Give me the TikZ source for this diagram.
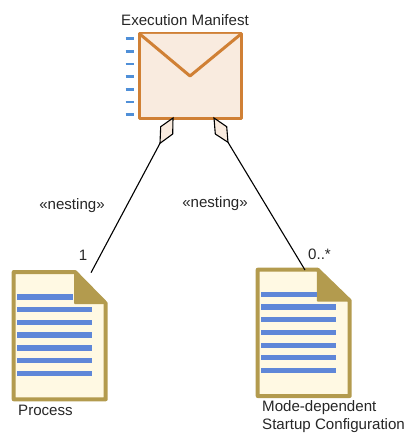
\documentclass[tikz,border=0pt]{standalone}
\usepackage{fontspec}
\setmainfont{Liberation Sans}
\definecolor{envfill}{HTML}{F9EBDF}
\definecolor{envline}{HTML}{D08035}
\definecolor{docfill}{HTML}{FFF9E3}
\definecolor{docline}{HTML}{B39B4E}
\definecolor{docbar}{HTML}{5F87D8}
\definecolor{tickblue}{HTML}{4F8FD8}
\tikzset{
  label/.style={inner sep=0pt, font=\fontsize{15.1}{17}\selectfont, text=black!85},
  envelope/.style={draw=envline, fill=envfill, line width=3pt, line join=round},
  paper/.style={draw=docline, fill=docfill, line width=4pt, line join=round},
  bar/.style={docbar, line width=5.2pt},
  tick/.style={tickblue, line width=2.8pt},
  nesting/.style={black, line width=1.1pt},
  diamond/.style={draw=black, fill=envfill, line width=1.1pt, line join=miter}
}
% one document icon: x, y of the corners, then x, y of the fold
\newcommand{\docicon}[6]{
  \draw[paper] (#1,#2) -- (#5,#2) -- (#3,#6) -- (#3,#4) -- (#1,#4) -- cycle;
  \fill[docline, draw=docline, line width=1.6pt, line join=round] (#5,#2) -- (#3,#6) -- (#5,#6) -- cycle;
}
\begin{document}
\begin{tikzpicture}[x=1pt, y=-1pt]
  \useasboundingbox (0,0) rectangle (404,433);

  % manifest
  \foreach \y in {38.7, 51.3, 64, 76.7, 89.3, 102, 114.7}
    \draw[tick] (125.7,\y) -- (134.3,\y);
  \draw[envelope] (139.8,34) rectangle (241,118);
  \draw[envelope] (139.8,34) -- (190,76) -- (241,34);
  \node[label] (manifest) at (185,20) {Execution Manifest};

  % left document
  \docicon{13.7}{272}{105.7}{399.3}{75}{303.3}
  \draw[bar] (17,297) -- (73.3,297);
  \foreach \y in {309.7, 322.3, 335, 348, 360.7, 373.3}
    \draw[bar] (17,\y) -- (91.7,\y);
  \node[label, anchor=west] (process) at (18,410) {Process};

  % right document
  \docicon{257.7}{269.7}{349.7}{396}{317.7}{300.7}
  \draw[bar] (261,294.3) -- (317.3,294.3);
  \foreach \y in {307, 319.7, 332.3, 345.3, 357.7, 370.3}
    \draw[bar] (261,\y) -- (336,\y);
  \node[label, anchor=west] (mode) at (262,408) {Mode-dependent};
  \node[label, anchor=west] (startup) at (262,426) {Startup Configuration};

  % connector ends
  \coordinate (d1) at (160,143.3);
  \coordinate (d2) at (228,142.3);
  \coordinate (p1) at (91,272.7);
  \coordinate (p2) at (305,270);

  \draw[diamond] (173,118) -- (172.7,134) -- (d1) -- (160.7,126.7) -- cycle;
  \draw[diamond] (214,118) -- (215.3,134) -- (d2) -- (226.7,126.7) -- cycle;
  \draw[nesting] (d1) -- (p1);
  \draw[nesting] (d2) -- (p2);

  \node[label] (nest1) at (72,206) {«nesting»};
  \node[label] (nest2) at (215,204) {«nesting»};
  \node[label] (mult1) at (83,255) {1};
  \node[label, anchor=west] (mult2) at (308,254) {0..*};
\end{tikzpicture}
\end{document}
